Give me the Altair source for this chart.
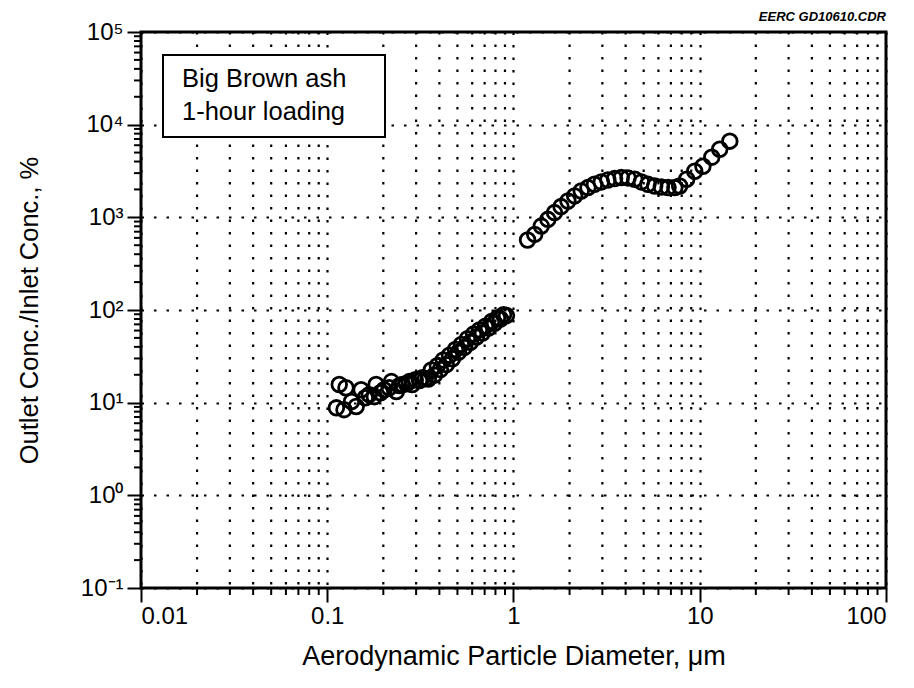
import altair as alt
import pandas as pd

# ---- data ----
x_low = [0.112, 0.116, 0.123, 0.126, 0.135, 0.143, 0.152, 0.160, 0.168, 0.179,
         0.183, 0.193, 0.202, 0.215, 0.221, 0.235, 0.244, 0.253, 0.266, 0.276,
         0.286, 0.297, 0.313, 0.324, 0.336, 0.349, 0.362, 0.376, 0.390, 0.405,
         0.420, 0.436, 0.453, 0.470, 0.488, 0.506, 0.525, 0.545, 0.566, 0.587,
         0.610, 0.633, 0.656, 0.681, 0.707, 0.734, 0.762, 0.791, 0.820, 0.851,
         0.884, 0.917]
y_low = [8.8, 15.7, 8.4, 14.5, 10.3, 9.1, 13.8, 11.3, 12.2, 11.6,
         15.7, 12.8, 13.8, 14.5, 16.9, 13.2, 15.3, 15.7, 16.0, 16.9,
         15.7, 17.7, 17.3, 18.6, 18.2, 18.0, 22.5, 19.8, 25.0, 22.8,
         28.9, 25.7, 32.5, 29.8, 37.5, 35.0, 42.5, 39.5, 49.0, 44.8,
         55.0, 51.0, 61.0, 56.5, 67.0, 64.0, 75.0, 72.0, 82.0, 80.0,
         89.0, 87.0]
x_high = [1.19, 1.30, 1.41, 1.53, 1.66, 1.80, 1.96, 2.13, 2.31, 2.51,
          2.72, 2.96, 3.21, 3.49, 3.79, 4.12, 4.48, 4.86, 5.27, 5.73,
          6.22, 6.76, 7.35, 7.80, 8.51, 9.40, 10.4, 11.6, 12.8, 14.5]
y_high = [569, 655, 805, 951, 1125, 1306, 1500, 1702, 1923, 2094,
          2275, 2410, 2529, 2618, 2685, 2661, 2576, 2410, 2275, 2178,
          2123, 2094, 2094, 2178, 2576, 3141, 3556, 4457, 5433, 6637]

x_decades = [0.01, 0.1, 1, 10, 100]
y_decades = [0.1, 1, 10, 100, 1000, 10000, 100000]
y_tick_labels = ["10\u207b\u00b9", "10\u2070", "10\u00b9", "10\u00b2", "10\u00b3", "10\u2074", "10\u2075"]
box_lines = ["Big Brown ash", "1-hour loading"]
corner_note = "EERC GD10610.CDR"
x_title = "Aerodynamic Particle Diameter, \u03bcm"
y_title = "Outlet Conc./Inlet Conc., %"

x_minor = [d * k for d in x_decades[:-1] for k in range(2, 10)]
y_minor = [d * k for d in y_decades[:-1] for k in range(2, 10)]

FONT = "Liberation Sans"
W, H = 745, 556
DOT = [2.5, 10]

# label expression for y axis
expr = "''"
for d, lab in reversed(list(zip(y_decades, y_tick_labels))):
    expr = f"datum.value < {d * 3} ? '{lab}' : ({expr})"

pts = pd.DataFrame({"x": x_low + x_high, "y": y_low + y_high})

xscale = alt.Scale(type="log", domain=[0.01, 100], nice=False)
yscale = alt.Scale(type="log", domain=[0.1, 100000], nice=False)

x_axis = alt.Axis(values=x_decades, format="~g", tickSize=14, tickWidth=2,
                  tickColor="black", domain=False, grid=True, gridDash=DOT,
                  gridWidth=2.2, gridColor="black", labelFont=FONT,
                  labelFontSize=24, labelColor="black", labelPadding=2,
                  title=x_title, titleFont=FONT, titleFontSize=27,
                  titleFontWeight="normal", titleColor="black",
                  titleY=76, titleBaseline="alphabetic")
y_axis = alt.Axis(values=y_decades, labelExpr=expr, tickSize=14, tickWidth=2,
                  tickColor="black", domain=False, grid=True, gridDash=DOT,
                  gridWidth=2.2, gridColor="black", labelFont=FONT,
                  labelFontSize=24, labelColor="black", labelPadding=4,
                  title=y_title, titleFont=FONT, titleFontSize=25.5,
                  titleFontWeight="normal", titleColor="black",
                  titleX=-112, titleY=H / 2, titleBaseline="middle",
                  titleAngle=270, titleAlign="center")

X = alt.X("x:Q", scale=xscale, axis=x_axis)
Y = alt.Y("y:Q", scale=yscale, axis=y_axis)

vgrid = alt.Chart(pd.DataFrame({"x": x_minor})).mark_rule(
    color="black", strokeDash=DOT, strokeWidth=2.2
).encode(x=X)

xminor_ticks = alt.Chart(pd.DataFrame({"x": x_minor})).mark_rule(
    color="black", strokeWidth=2
).encode(x=X, y=alt.value(H), y2=alt.value(H + 7))

yminor_ticks = alt.Chart(pd.DataFrame({"y": y_minor})).mark_rule(
    color="black", strokeWidth=2
).encode(y=Y, x=alt.value(-7), x2=alt.value(0))

points = alt.Chart(pts).mark_point(
    shape="circle", filled=False, size=215, stroke="black", strokeWidth=2.8,
    opacity=1
).encode(x=X, y=Y)

one = pd.DataFrame({"a": [0]})
box = alt.Chart(one).mark_rect(fill="white", stroke="black", strokeWidth=2).encode(
    x=alt.value(22), x2=alt.value(244), y=alt.value(23), y2=alt.value(105))
txt1 = alt.Chart(one).mark_text(text=box_lines[0], font=FONT, fontSize=25.5,
                                align="left", baseline="alphabetic", color="black").encode(
    x=alt.value(41), y=alt.value(55))
txt2 = alt.Chart(one).mark_text(text=box_lines[1], font=FONT, fontSize=25.5,
                                align="left", baseline="alphabetic", color="black").encode(
    x=alt.value(41), y=alt.value(88))
note = alt.Chart(one).mark_text(text=corner_note, font=FONT, fontSize=13,
                                fontStyle="italic", fontWeight="bold",
                                align="right", baseline="alphabetic", color="black").encode(
    x=alt.value(W), y=alt.value(-11))

chart = alt.layer(vgrid, xminor_ticks, yminor_ticks, points, box, txt1, txt2, note).properties(
    width=W, height=H,
    autosize=alt.AutoSizeParams(type="none"),
    padding={"left": 141, "top": 32, "right": 28, "bottom": 100},
    background="white",
).configure_view(stroke="black", strokeWidth=3)

chart.save("out.html", embed_options={"renderer": "svg", "actions": False})
